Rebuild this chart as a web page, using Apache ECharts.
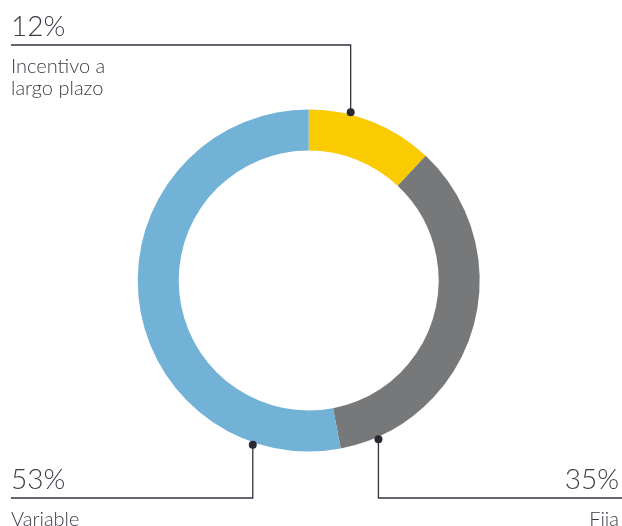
<!DOCTYPE html>
<html>
<head>
<meta charset="utf-8">
<script src="https://cdn.jsdelivr.net/npm/echarts@6/dist/echarts.min.js"></script>
<style>
  html, body { margin: 0; padding: 0; background: #ffffff; }
  #chart { width: 622px; height: 526px; }
</style>
</head>
<body>
<div id="chart"></div>
<script>
// Compensation mix
const categories = ['Incentivo a\nlargo plazo', 'Fija', 'Variable'];
const shares = [12, 35, 53];
const sliceColors = ['#F9CB00', '#77787A', '#72B2D7'];

// Callout layout: dot angle (degrees clockwise from 12 o'clock), elbow y, text side
const calloutAngles = [14, 156.3, 198.8];
const calloutLineY = [45, 498, 498];
const calloutSide = ['left', 'right', 'left'];

const CX = 308.7, CY = 280.5;
const R_IN = 130, R_OUT = 171, DOT_R = 173.5;
const LEFT_X = 11, RIGHT_X = 619;
const TEXT_COLOR = '#3b3b45';
const LINE_COLOR = '#34343f';
const FONT = 'Lato, "Open Sans", sans-serif';

function dotPoint(i) {
  const a = calloutAngles[i] * Math.PI / 180;
  return [CX + DOT_R * Math.sin(a), CY - DOT_R * Math.cos(a)];
}

const chart = echarts.init(document.getElementById('chart'), null, { renderer: 'canvas' });

const rich = {};
['left', 'right'].forEach(function (side) {
  rich['p_' + side] = { fontFamily: FONT, fontSize: 28, fontWeight: 300, lineHeight: 58, color: TEXT_COLOR, align: side };
  rich['n_' + side] = { fontFamily: FONT, fontSize: 20, fontWeight: 300, lineHeight: 22, color: TEXT_COLOR, align: side };
});

const data = categories.map(function (name, i) {
  return { name: name, value: shares[i], itemStyle: { color: sliceColors[i] } };
});

chart.setOption({
  animation: false,
  backgroundColor: '#ffffff',
  series: [{
    type: 'pie',
    center: [CX, CY],
    radius: [R_IN, R_OUT],
    startAngle: 90,
    clockwise: true,
    silent: true,
    emphasis: { disabled: true },
    data: data,
    label: {
      show: true,
      position: 'outside',
      formatter: function (p) {
        const side = calloutSide[p.dataIndex];
        const lines = p.name.split('\n').map(function (t) { return '{n_' + side + '|' + t + '}'; });
        return '{p_' + side + '|' + p.value + '%}\n' + lines.join('\n');
      },
      rich: rich
    },
    labelLine: {
      show: true,
      smooth: false,
      lineStyle: { color: LINE_COLOR, width: 1.3 }
    },
    labelLayout: function (params) {
      const i = params.dataIndex;
      const d = dotPoint(i);
      const ly = calloutLineY[i];
      const side = calloutSide[i];
      const endX = side === 'left' ? LEFT_X : 622;
      return {
        x: side === 'left' ? LEFT_X : RIGHT_X,
        y: ly - 47.5,
        align: side,
        verticalAlign: 'top',
        labelLinePoints: [[d[0], d[1]], [d[0], ly], [endX, ly]]
      };
    }
  }],
  graphic: categories.map(function (c, i) {
    const d = dotPoint(i);
    return {
      type: 'circle',
      z: 100,
      shape: { cx: d[0], cy: d[1], r: 4 },
      style: { fill: '#2a2a36' }
    };
  })
});
</script>
</body>
</html>
